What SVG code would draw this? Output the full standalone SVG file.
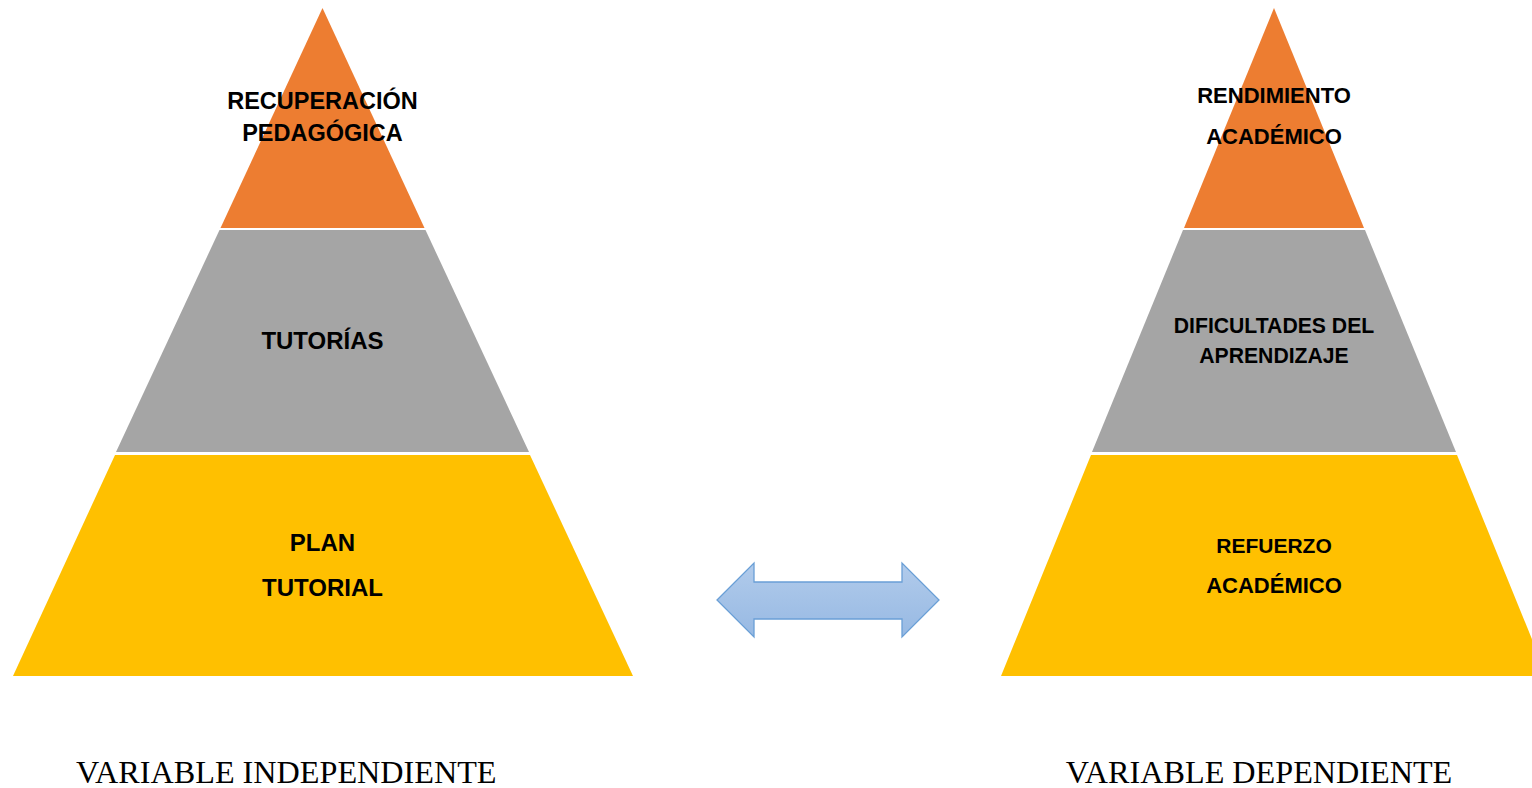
<svg xmlns="http://www.w3.org/2000/svg" width="1532" height="788" viewBox="0 0 1532 788">
<defs>
<linearGradient id="ag" x1="0" y1="0" x2="0" y2="1">
<stop offset="0" stop-color="#b1cbeb"/>
<stop offset="1" stop-color="#97b9e3"/>
</linearGradient>
</defs>
<style>
.o{fill:#ED7D31}.g{fill:#A5A5A5}.y{fill:#FFC000}
.t{font-family:"Liberation Sans",Arial,sans-serif;font-weight:bold;fill:#000;text-anchor:middle}
.l{font-size:23.5px}.r{font-size:22px}
.b{font-family:"Liberation Serif","Times New Roman",serif;font-size:32.2px;fill:#000}
</style>
<rect width="1532" height="788" fill="#fff"/>
<g id="left-pyramid">
<g id="l-top"><polygon class="o" points="322.5,8 220.5,228 424.5,228"/>
<text class="t l" x="322.5" y="109">RECUPERACIÓN</text>
<text class="t l" x="322.5" y="141">PEDAGÓGICA</text></g>
<g id="l-mid"><polygon class="g" points="219.5,230 425.5,230 529,452 116,452"/>
<text class="t" style="font-size:24px" x="322.5" y="349">TUTORÍAS</text></g>
<g id="l-bot"><polygon class="y" points="115,455 530,455 633,676 13,676"/>
<text class="t" style="font-size:24px" x="322.5" y="551">PLAN</text>
<text class="t" style="font-size:24px" x="322.5" y="596">TUTORIAL</text></g>
</g>
<g id="right-pyramid">
<g id="r-top"><polygon class="o" points="1274,8 1184,228 1364,228"/>
<text class="t r" x="1274" y="103">RENDIMIENTO</text>
<text class="t r" x="1274" y="144">ACADÉMICO</text></g>
<g id="r-mid"><polygon class="g" points="1183,230 1365,230 1456,452 1092,452"/>
<text class="t" style="font-size:21.2px" x="1274" y="333">DIFICULTADES DEL</text>
<text class="t" style="font-size:21.2px" x="1274" y="363">APRENDIZAJE</text></g>
<g id="r-bot"><polygon class="y" points="1091,455 1457,455 1547,676 1001,676"/>
<text class="t" style="font-size:21px" x="1274" y="553">REFUERZO</text>
<text class="t r" x="1274" y="593">ACADÉMICO</text></g>
</g>
<g id="connectors">
<polygon points="717,600 754,563 754,582 902,582 902,563 939,600 902,637 902,619 754,619 754,637" fill="url(#ag)" stroke="#6a9fd6" stroke-width="1.3"/>
</g>
<g id="labels">
<text class="b" x="76" y="783">VARIABLE INDEPENDIENTE</text>
<text class="b" x="1259" y="783" text-anchor="middle">VARIABLE DEPENDIENTE</text>
</g>
</svg>
